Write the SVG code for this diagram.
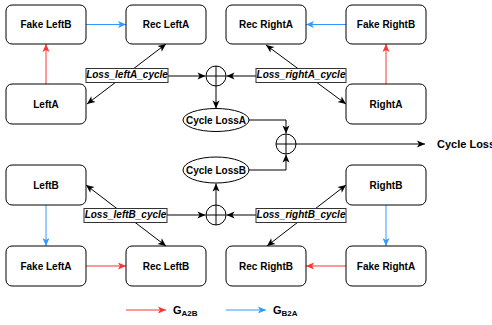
<svg xmlns="http://www.w3.org/2000/svg" width="492" height="325" viewBox="0 0 492 325">
<style>
.box{fill:#fff;stroke:#000;stroke-width:1}
.t{font-family:"Liberation Sans",Arial,sans-serif;font-weight:bold;font-size:10px;text-anchor:middle;dominant-baseline:central;fill:#000}
.lbl{fill:#fff;stroke:#333;stroke-width:1}
.lt{font-family:"Liberation Sans",Arial,sans-serif;font-weight:bold;font-style:italic;font-size:10px;text-anchor:middle;fill:#000}
.k{stroke:#000;stroke-width:1;fill:none}
.r{stroke:#FF3333;stroke-width:1;fill:none;marker-end:url(#ar)}
.b{stroke:#3399FF;stroke-width:1;fill:none;marker-end:url(#ab)}
.ka{marker-end:url(#ak)}
.kd{marker-start:url(#ak);marker-end:url(#ak)}
</style>
<defs>
<marker id="ak" markerWidth="10" markerHeight="10" refX="9" refY="5" orient="auto-start-reverse" markerUnits="userSpaceOnUse"><path d="M1,1.5 L9,5 L1,8.5 L3,5 Z" fill="#000"/></marker>
<marker id="ar" markerWidth="10" markerHeight="10" refX="9" refY="5" orient="auto" markerUnits="userSpaceOnUse"><path d="M1,1.5 L9,5 L1,8.5 L3,5 Z" fill="#FF3333"/></marker>
<marker id="ab" markerWidth="10" markerHeight="10" refX="9" refY="5" orient="auto" markerUnits="userSpaceOnUse"><path d="M1,1.5 L9,5 L1,8.5 L3,5 Z" fill="#3399FF"/></marker>
</defs>
<g id="connectors">
<line class="b" x1="86" y1="24.5" x2="126" y2="24.5"/>
<line class="b" x1="346" y1="24.5" x2="306" y2="24.5"/>
<line class="r" x1="46" y1="84" x2="46" y2="44"/>
<line class="r" x1="386" y1="84" x2="386" y2="44"/>
<line class="b" x1="46" y1="205" x2="46" y2="246"/>
<line class="b" x1="386" y1="205" x2="386" y2="246"/>
<line class="r" x1="86" y1="266" x2="126" y2="266"/>
<line class="r" x1="346" y1="266" x2="306" y2="266"/>
<line class="k kd" x1="87" y1="104" x2="166" y2="44"/>
<line class="k kd" x1="346" y1="104" x2="266" y2="45"/>
<line class="k kd" x1="86" y1="185" x2="166" y2="246"/>
<line class="k kd" x1="346" y1="185" x2="267" y2="246"/>
<line class="k ka" x1="168" y1="76" x2="205.5" y2="76"/>
<line class="k ka" x1="256" y1="76" x2="226.5" y2="76"/>
<line class="k ka" x1="167" y1="215" x2="205.5" y2="215"/>
<line class="k ka" x1="256" y1="215" x2="226.5" y2="215"/>
<line class="k ka" x1="216" y1="86" x2="216" y2="108.5"/>
<line class="k ka" x1="216" y1="205" x2="216" y2="183.5"/>
<polyline class="k ka" points="249,120 286,120 286,133.5"/>
<polyline class="k ka" points="249,170 286,170 286,154.5"/>
<line class="k ka" x1="296" y1="144" x2="425" y2="144"/>
<line class="r" x1="126" y1="310" x2="166" y2="310"/>
<line class="b" x1="226" y1="310" x2="266" y2="310"/>
</g>
<g id="fakeLeftB"><rect class="box" x="6" y="5" width="80" height="39" rx="6"/><text class="t" x="46" y="24.5">Fake LeftB</text></g>
<g id="recLeftA"><rect class="box" x="126" y="5" width="80" height="39" rx="6"/><text class="t" x="166" y="24.5">Rec LeftA</text></g>
<g id="recRightA"><rect class="box" x="226" y="5" width="80" height="39" rx="6"/><text class="t" x="266" y="24.5">Rec RightA</text></g>
<g id="fakeRightB"><rect class="box" x="346" y="5" width="80" height="39" rx="6"/><text class="t" x="386" y="24.5">Fake RightB</text></g>
<g id="leftA"><rect class="box" x="6" y="84" width="80" height="40" rx="6"/><text class="t" x="46" y="104">LeftA</text></g>
<g id="rightA"><rect class="box" x="346" y="84" width="80" height="40" rx="6"/><text class="t" x="386" y="104">RightA</text></g>
<g id="leftB"><rect class="box" x="6" y="165" width="80" height="40" rx="6"/><text class="t" x="46" y="185">LeftB</text></g>
<g id="rightB"><rect class="box" x="346" y="165" width="80" height="40" rx="6"/><text class="t" x="386" y="185">RightB</text></g>
<g id="fakeLeftA"><rect class="box" x="6" y="246" width="80" height="40" rx="6"/><text class="t" x="46" y="266">Fake LeftA</text></g>
<g id="recLeftB"><rect class="box" x="126" y="246" width="80" height="40" rx="6"/><text class="t" x="166" y="266">Rec LeftB</text></g>
<g id="recRightB"><rect class="box" x="226" y="246" width="80" height="40" rx="6"/><text class="t" x="266" y="266">Rec RightB</text></g>
<g id="fakeRightA"><rect class="box" x="346" y="246" width="80" height="40" rx="6"/><text class="t" x="386" y="266">Fake RightA</text></g>
<g id="lossLeftA"><rect class="lbl" x="86" y="68.5" width="82" height="14"/><text class="lt" x="127" y="77.5">Loss_leftA_cycle</text></g>
<g id="lossRightA"><rect class="lbl" x="256" y="68.5" width="90" height="14"/><text class="lt" x="301" y="77.5">Loss_rightA_cycle</text></g>
<g id="lossLeftB"><rect class="lbl" x="84" y="208.5" width="83" height="14"/><text class="lt" x="125.5" y="217.5">Loss_leftB_cycle</text></g>
<g id="lossRightB"><rect class="lbl" x="256" y="208.5" width="90" height="14"/><text class="lt" x="301" y="217.5">Loss_rightB_cycle</text></g>
<g id="sumA"><circle class="box" cx="216" cy="76" r="10"/><path class="k" d="M206,76 H226 M216,66 V86"/></g>
<g id="sumB"><circle class="box" cx="216" cy="215" r="10"/><path class="k" d="M206,215 H226 M216,205 V225"/></g>
<g id="sumTotal"><circle class="box" cx="286" cy="144" r="10"/><path class="k" d="M276,144 H296 M286,134 V154"/></g>
<g id="cycleLossA"><ellipse class="box" cx="216" cy="120" rx="33" ry="11.5"/><text class="t" x="216" y="120">Cycle LossA</text></g>
<g id="cycleLossB"><ellipse class="box" cx="216" cy="170" rx="33" ry="13"/><text class="t" x="216" y="170">Cycle LossB</text></g>
<g id="cycleLoss"><text class="t" x="437" y="144" style="text-anchor:start;font-size:11px">Cycle Loss</text></g>
<g id="legend">
<text class="t" x="173" y="310" style="text-anchor:start;font-size:11px">G<tspan font-size="8" dy="3">A2B</tspan></text>
<text class="t" x="273" y="310" style="text-anchor:start;font-size:11px">G<tspan font-size="8" dy="3">B2A</tspan></text>
</g>
</svg>
